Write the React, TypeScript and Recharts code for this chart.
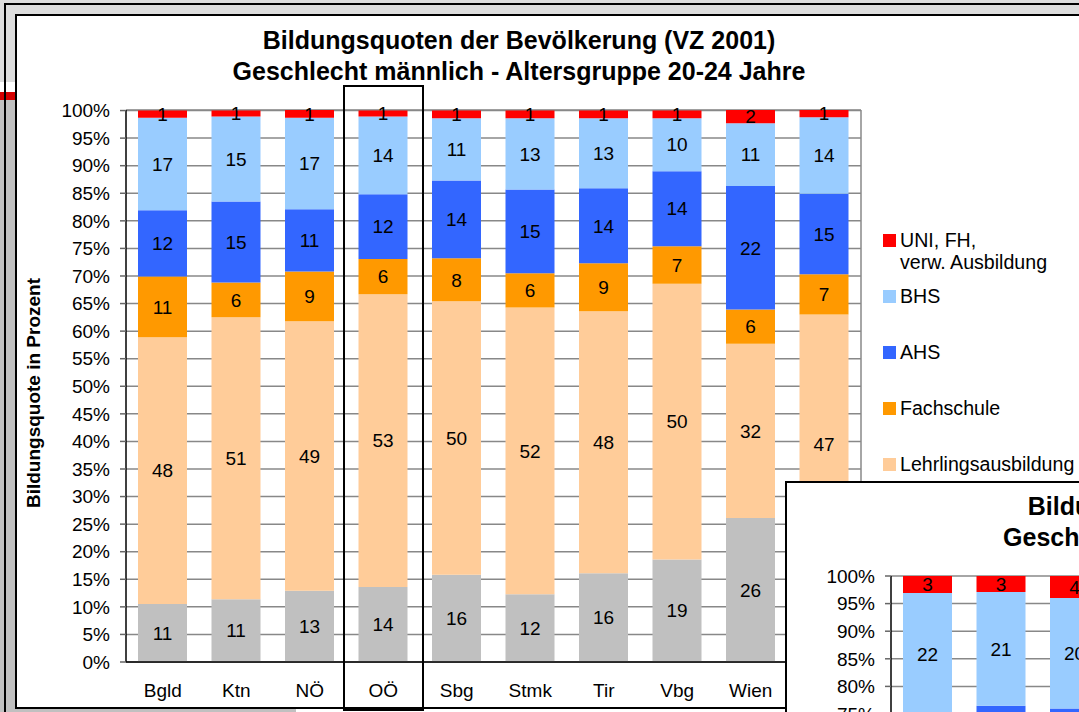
import React from 'react';
import { BarChart, Bar, XAxis, YAxis, CartesianGrid, LabelList } from 'recharts';

const FONT = '"Liberation Sans", Arial, sans-serif';

const categories = ['Bgld', 'Ktn', 'NÖ', 'OÖ', 'Sbg', 'Stmk', 'Tir', 'Vbg', 'Wien', 'Ö'];

// männlich, 20-24 Jahre (Anteile in %)
const pflichtM = [10.5, 11.4, 12.9, 13.6, 15.8, 12.3, 16.1, 18.6, 26.1, 16.0];
const lehreM = [48.4, 51.1, 48.9, 53.1, 49.6, 52.0, 47.5, 50.0, 31.6, 47.0];
const fachM = [11.0, 6.3, 9.0, 6.4, 7.8, 6.2, 8.7, 6.8, 6.2, 7.3];
const ahsM = [12.0, 14.7, 11.3, 11.7, 14.1, 15.2, 13.6, 13.6, 22.4, 14.6];
const bhsM = [16.8, 15.4, 16.6, 14.1, 11.3, 12.9, 12.7, 9.6, 11.4, 13.9];
const uniM = [1.3, 1.1, 1.4, 1.1, 1.4, 1.4, 1.4, 1.4, 2.4, 1.3];

// weiblich - only the first three columns are visible in the overlapping chart
const pflichtF = [12, 13, 12];
const lehreF = [21, 21, 22];
const fachF = [21.6, 21.5, 21];
const ahsF = [20, 21, 21];
const bhsF = [22.3, 20.6, 20.0];
const uniF = [3.1, 2.9, 4.0];

const seriesKeys = ['pflicht', 'lehre', 'fach', 'ahs', 'bhs', 'uni'];
const seriesNames = ['Pflichtschule', 'Lehrlingsausbildung', 'Fachschule', 'AHS', 'BHS', 'UNI, FH,\nverw. Ausbildung'];
const seriesColors = ['#C0C0C0', '#FFCC99', '#FF9900', '#3366FF', '#99CCFF', '#FF0000'];

const yTicks = [0, 5, 10, 15, 20, 25, 30, 35, 40, 45, 50, 55, 60, 65, 70, 75, 80, 85, 90, 95, 100];

const TITLE = 'Bildungsquoten der Bevölkerung (VZ 2001)';
const SUB_M = 'Geschlecht männlich - Altersgruppe 20-24 Jahre';
const SUB_F = 'Geschlecht weiblich - Altersgruppe 20-24 Jahre';

const buildRows = (cols: number[][]) =>
  categories.map((name, i) => {
    const row: any = { name };
    seriesKeys.forEach((k, s) => {
      if (cols[s][i] !== undefined) row[k] = cols[s][i];
    });
    return row;
  });

const rowsM = buildRows([pflichtM, lehreM, fachM, ahsM, bhsM, uniM]);
const rowsF = buildRows([pflichtF, lehreF, fachF, ahsF, bhsF, uniF]);

const fmt = (v: any) => (v == null || v === '' ? '' : String(Math.round(Number(v))));

const BildungChart = ({ rows, subtitle }: { rows: any[]; subtitle: string }) => {
  const legendOrder = [5, 4, 3, 2, 1, 0];
  return (
    <div style={{ position: 'absolute', left: 0, top: 0, width: 1062, height: 690 }}>
      <div style={{ position: 'absolute', left: 0, top: 0 }}>
        <BarChart
          width={1062}
          height={690}
          data={rows}
          margin={{ top: 93, right: 218, bottom: 15, left: 49 }}
          barSize={49}
        >
          <CartesianGrid
            stroke="#888"
            strokeWidth={1.5}
            verticalCoordinatesGenerator={({ offset }: any) => [offset.left + offset.width]}
          />
          <XAxis
            dataKey="name"
            interval={0}
            tickLine={false}
            height={30}
            tickMargin={16}
            axisLine={{ stroke: '#000', strokeWidth: 1.5 }}
            tick={{ fontSize: 19, fill: '#000' }}
          />
          <YAxis
            domain={[0, 100]}
            ticks={yTicks}
            interval={0}
            width={60}
            tickSize={6}
            tickMargin={10}
            tickFormatter={(v: number) => `${v}%`}
            axisLine={{ stroke: '#000', strokeWidth: 1.5 }}
            tickLine={{ stroke: '#666', strokeWidth: 1.5 }}
            tick={{ fontSize: 19, fill: '#000' }}
          />
          {seriesKeys.map((k, s) => (
            <Bar key={k} dataKey={k} name={seriesNames[s]} stackId="a" fill={seriesColors[s]} isAnimationActive={false}>
              <LabelList dataKey={k} position="center" fill="#000" fontSize={19} formatter={fmt} />
            </Bar>
          ))}
        </BarChart>
      </div>

      <div
        style={{
          position: 'absolute', left: 0, top: 7.5, width: 1004, textAlign: 'center',
          fontWeight: 'bold', fontSize: 25, lineHeight: '31px', whiteSpace: 'nowrap',
        }}
      >
        <div>{TITLE}</div>
        <div>{subtitle}</div>
      </div>

      <div
        style={{
          position: 'absolute', left: 17, top: 376, transform: 'translate(-50%, -50%) rotate(-90deg)',
          whiteSpace: 'nowrap', fontWeight: 'bold', fontSize: 19, lineHeight: '22px',
        }}
      >
        Bildungsquote in Prozent
      </div>

      {legendOrder.map((s, i) => {
        const cy = 223 + i * 56;
        return (
          <div key={s} style={{ position: 'absolute', left: 866, top: cy - 11 }}>
            <div style={{ position: 'absolute', left: 0, top: 5, width: 13, height: 13, background: seriesColors[s] }} />
            <div style={{ position: 'absolute', left: 17, top: 0, fontSize: 19.6, lineHeight: '22px', whiteSpace: 'nowrap' }}>
              {seriesNames[s].split('\n').map((line) => (
                <div key={line}>{line}</div>
              ))}
            </div>
          </div>
        );
      })}
    </div>
  );
};

export default function App() {
  return (
    <div
      style={{
        position: 'absolute', left: 0, top: 0, width: 1079, height: 712, overflow: 'hidden',
        background: '#dcdcdc', fontFamily: FONT, color: '#000',
      }}
    >
      {/* spreadsheet bits peeking out on the left */}
      <div style={{ position: 'absolute', left: 0, top: 82, width: 15, height: 10, background: '#fff' }} />
      <div style={{ position: 'absolute', left: 0, top: 92, width: 15, height: 8, background: '#d40000' }} />
      <div style={{ position: 'absolute', left: 0, top: 100, width: 15, height: 612, background: '#c0c0c0' }} />
      <div style={{ position: 'absolute', left: 0, top: 709, width: 296, height: 3, background: '#c0c0c0' }} />
      <div style={{ position: 'absolute', left: 296, top: 709, width: 783, height: 3, background: '#fff' }} />

      {/* outer frame line */}
      <div
        style={{
          position: 'absolute', left: 4, top: 3, width: 1100, height: 720,
          borderLeft: '2px solid #000', borderTop: '2px solid #000', boxSizing: 'border-box',
        }}
      />

      {/* chart area */}
      <div
        style={{
          position: 'absolute', left: 15, top: 14, width: 1100, height: 695, boxSizing: 'border-box',
          border: '2px solid #000', background: '#fff',
        }}
      />
      <div style={{ position: 'absolute', left: 17, top: 17, width: 1062, height: 690 }}>
        <BildungChart rows={rowsM} subtitle={SUB_M} />
      </div>

      {/* highlight box around OÖ */}
      <div
        style={{
          position: 'absolute', left: 343, top: 85, width: 81, height: 626,
          border: '2px solid #000', boxSizing: 'border-box',
        }}
      />

      {/* second chart (weiblich) overlapping bottom right */}
      <div
        style={{
          position: 'absolute', left: 785, top: 481, width: 320, height: 260, overflow: 'hidden',
          borderLeft: '2px solid #000', borderTop: '2px solid #000', background: '#fff',
        }}
      >
        <div style={{ position: 'absolute', left: -5, top: 0, width: 1062, height: 690 }}>
          <BildungChart rows={rowsF} subtitle={SUB_F} />
        </div>
      </div>
    </div>
  );
}
